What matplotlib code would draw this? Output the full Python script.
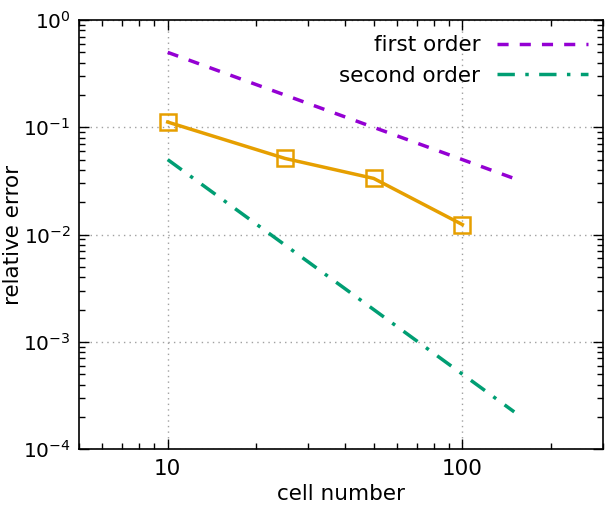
import numpy as np
import matplotlib.pyplot as plt
from matplotlib.ticker import LogLocator, NullFormatter

cells = [10, 25, 50, 100]
error = [0.112, 0.0513, 0.0334, 0.0124]

ref_x = [10, 150]
first_order = [0.5, 0.5 * (10 / 150)]
second_order = [0.05, 0.05 * (10 / 150) ** 2]

plt.rcParams['font.size'] = 15.5

fig = plt.figure(figsize=(6.05, 5.15), dpi=100)
ax = fig.add_axes([0.1306, 0.128, 0.866, 0.833])

ax.plot(cells, error, color='#E69F00', lw=2.5, marker='s', ms=12,
        mfc='none', mec='#E69F00', mew=1.8)
ax.plot(ref_x, first_order, color='#9400D3', lw=2.5, dashes=(3.2, 3.2), label='first order')
ax.plot(ref_x, second_order, color='#009E73', lw=2.5, dashes=(5, 3, 1, 3), label='second order')

ax.set_xscale('log')
ax.set_yscale('log')
ax.set_xlim(5, 300)
ax.set_ylim(1e-4, 1)

ax.xaxis.set_minor_locator(LogLocator(subs=np.arange(2, 10)))
ax.yaxis.set_minor_locator(LogLocator(subs=np.arange(2, 10)))
ax.xaxis.set_minor_formatter(NullFormatter())
ax.yaxis.set_minor_formatter(NullFormatter())
ax.set_xticks([10, 100])
ax.set_xticklabels(['10', '100'])

ax.tick_params(which='both', direction='in', top=True, right=True, width=1)
ax.tick_params(which='major', length=7, pad=7)
ax.tick_params(axis='y', which='major', labelsize=14.5, pad=6)
ax.tick_params(which='minor', length=4)
for s in ax.spines.values():
    s.set_linewidth(1.2)

ax.grid(True, which='major', color='#a0a0a0', ls=(0, (1, 3)), lw=1)

ax.set_xlabel('cell number', labelpad=4)
ax.set_ylabel('relative error')
ax.yaxis.set_label_coords(-0.107, 0.5)

ax.legend(loc='upper right', frameon=False, markerfirst=False, handlelength=4.2,
          handletextpad=0.8, borderaxespad=0.3, labelspacing=0.5)

fig.savefig('out.png', dpi=100)
